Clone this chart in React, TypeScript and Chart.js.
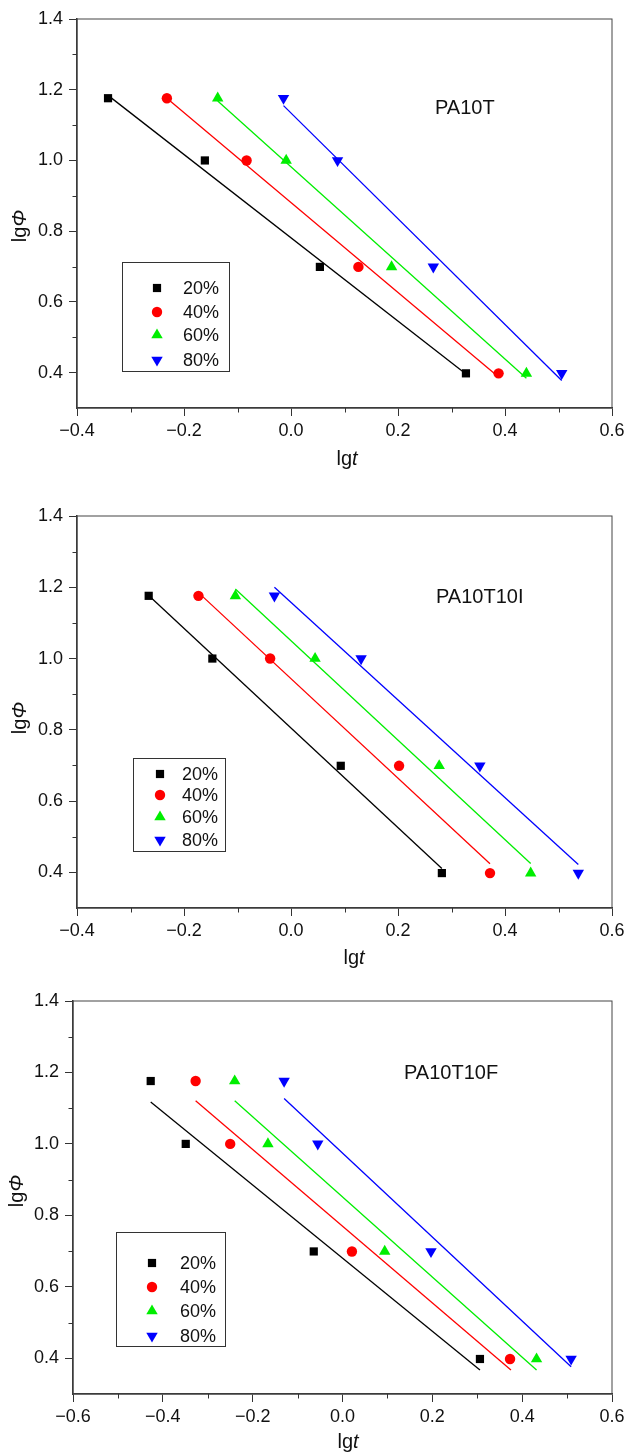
import React, { useEffect, useRef } from "react";
import { Chart, registerables } from "chart.js";

Chart.register(...registerables);

// ---- data ----
const SERIES_NAMES = ["20%", "40%", "60%", "80%"];
const SERIES_COLORS = ["#000000", "#ff0000", "#00ee00", "#0000ff"];
const LG_PHI = [1.176, 1.0, 0.699, 0.398];

const Y_TICKS = [0.4, 0.6, 0.8, 1.0, 1.2, 1.4];
const Y_MINOR = [0.5, 0.7, 0.9, 1.1, 1.3];
const X_TICKS_AB = [-0.4, -0.2, 0.0, 0.2, 0.4, 0.6];
const X_MINOR_AB = [-0.3, -0.1, 0.1, 0.3, 0.5];
const X_TICKS_C = [-0.6, -0.4, -0.2, 0.0, 0.2, 0.4, 0.6];
const X_MINOR_C = [-0.5, -0.3, -0.1, 0.1, 0.3, 0.5];

// PA10T: lg t for 20/40/60/80 %
const P1_20 = [-0.342, -0.161, 0.054, 0.327];
const P1_40 = [-0.232, -0.083, 0.126, 0.388];
const P1_60 = [-0.137, -0.009, 0.188, 0.44];
const P1_80 = [-0.014, 0.087, 0.266, 0.506];
// fitted lines: [x1, y1, x2, y2]
const P1_FIT_20 = [-0.342, 1.184, 0.327, 0.396];
const P1_FIT_40 = [-0.232, 1.176, 0.388, 0.388];
const P1_FIT_60 = [-0.137, 1.168, 0.44, 0.384];
const P1_FIT_80 = [-0.014, 1.155, 0.506, 0.378];

// PA10T10I
const P2_20 = [-0.266, -0.147, 0.093, 0.282];
const P2_40 = [-0.173, -0.039, 0.202, 0.372];
const P2_60 = [-0.104, 0.045, 0.277, 0.448];
const P2_80 = [-0.031, 0.131, 0.353, 0.537];
const P2_FIT_20 = [-0.266, 1.177, 0.282, 0.411];
const P2_FIT_40 = [-0.173, 1.185, 0.372, 0.424];
const P2_FIT_60 = [-0.104, 1.195, 0.448, 0.425];
const P2_FIT_80 = [-0.031, 1.2, 0.537, 0.422];

// PA10T10F
const P3_20 = [-0.427, -0.349, -0.064, 0.306];
const P3_40 = [-0.327, -0.25, 0.021, 0.373];
const P3_60 = [-0.24, -0.166, 0.094, 0.432];
const P3_80 = [-0.13, -0.055, 0.197, 0.509];
const P3_FIT_20 = [-0.427, 1.117, 0.306, 0.367];
const P3_FIT_40 = [-0.327, 1.121, 0.375, 0.367];
const P3_FIT_60 = [-0.24, 1.121, 0.432, 0.367];
const P3_FIT_80 = [-0.13, 1.127, 0.509, 0.376];

// ---- styles / layout ----
const FONT = "'Liberation Sans', Arial, Helvetica, sans-serif";
const MARKERS = [
  { style: "rect", radius: 5.8, rotation: 0 },
  { style: "circle", radius: 5.2, rotation: 0 },
  { style: "triangle", radius: 6.6, rotation: 0 },
  { style: "triangle", radius: 6.6, rotation: 180 },
];
const AXIS_COLOR = "#333333";

type Panel = {
  name: string;
  height: number;
  top: number;
  bottom: number;
  left: number;
  right: number;
  xMin: number;
  xTicks: number[];
  xMinor: number[];
  lgt: number[][];
  fits: number[][];
  label: { x: number; y: number };
  legend: { x: number; y: number; w: number; h: number; markerX: number; textX: number; rows: number[] };
  yTitle: { x: number; y: number };
  xTitle: { x: number; y: number };
};

const PANELS: Panel[] = [
  {
    name: "PA10T",
    height: 490,
    top: 19,
    bottom: 408,
    left: 77,
    right: 612,
    xMin: -0.4,
    xTicks: X_TICKS_AB,
    xMinor: X_MINOR_AB,
    lgt: [P1_20, P1_40, P1_60, P1_80],
    fits: [P1_FIT_20, P1_FIT_40, P1_FIT_60, P1_FIT_80],
    label: { x: 435, y: 108 },
    legend: { x: 122, y: 262, w: 107, h: 109, markerX: 157, textX: 183, rows: [288, 312, 335, 360] },
    yTitle: { x: 20, y: 226 },
    xTitle: { x: 347, y: 459 },
  },
  {
    name: "PA10T10I",
    height: 490,
    top: 26,
    bottom: 418,
    left: 77,
    right: 612,
    xMin: -0.4,
    xTicks: X_TICKS_AB,
    xMinor: X_MINOR_AB,
    lgt: [P2_20, P2_40, P2_60, P2_80],
    fits: [P2_FIT_20, P2_FIT_40, P2_FIT_60, P2_FIT_80],
    label: { x: 436, y: 107 },
    legend: { x: 133, y: 268, w: 92, h: 93, markerX: 160, textX: 182, rows: [284, 305, 327, 350] },
    yTitle: { x: 20, y: 228 },
    xTitle: { x: 354, y: 468 },
  },
  {
    name: "PA10T10F",
    height: 474,
    top: 21,
    bottom: 414,
    left: 73,
    right: 612,
    xMin: -0.6,
    xTicks: X_TICKS_C,
    xMinor: X_MINOR_C,
    lgt: [P3_20, P3_40, P3_60, P3_80],
    fits: [P3_FIT_20, P3_FIT_40, P3_FIT_60, P3_FIT_80],
    label: { x: 404, y: 93 },
    legend: { x: 116, y: 252, w: 109, h: 114, markerX: 152, textX: 180, rows: [283, 307, 331, 356] },
    yTitle: { x: 17, y: 211 },
    xTitle: { x: 348, y: 462 },
  },
];

function fmt(v: number): string {
  const r = Math.round(v * 10) / 10;
  return (r < 0 ? "\u2212" : "") + Math.abs(r).toFixed(1);
}

function drawMarker(ctx: CanvasRenderingContext2D, idx: number, x: number, y: number) {
  const m = MARKERS[idx];
  const r = m.radius;
  ctx.fillStyle = SERIES_COLORS[idx];
  ctx.beginPath();
  if (m.style === "rect") {
    const s = r * Math.SQRT1_2;
    ctx.rect(x - s, y - s, 2 * s, 2 * s);
  } else if (m.style === "circle") {
    ctx.arc(x, y, r, 0, Math.PI * 2);
  } else {
    let a = (m.rotation * Math.PI) / 180;
    for (let i = 0; i < 3; i++) {
      const px = x + Math.sin(a) * r;
      const py = y - Math.cos(a) * r;
      if (i === 0) ctx.moveTo(px, py);
      else ctx.lineTo(px, py);
      a += (Math.PI * 2) / 3;
    }
    ctx.closePath();
  }
  ctx.fill();
}

function drawMixed(ctx: CanvasRenderingContext2D, plain: string, ital: string, size: number) {
  ctx.font = `${size}px ${FONT}`;
  const w1 = ctx.measureText(plain).width;
  ctx.font = `italic ${size}px ${FONT}`;
  const w2 = ctx.measureText(ital).width;
  const start = -(w1 + w2) / 2;
  ctx.textAlign = "left";
  ctx.textBaseline = "middle";
  ctx.fillStyle = "#111";
  ctx.font = `${size}px ${FONT}`;
  ctx.fillText(plain, start, 0);
  ctx.font = `italic ${size}px ${FONT}`;
  ctx.fillText(ital, start + w1, 0);
}

function makeDecor(p: Panel) {
  return {
    id: "decor_" + p.name,
    beforeDatasetsDraw(chart: any) {
      const { ctx, chartArea } = chart;
      ctx.save();
      ctx.strokeStyle = "#444";
      ctx.lineWidth = 1;
      ctx.strokeRect(chartArea.left, chartArea.top, chartArea.right - chartArea.left, chartArea.bottom - chartArea.top);
      // minor ticks
      ctx.strokeStyle = AXIS_COLOR;
      ctx.lineWidth = 1;
      const xs = chart.scales.x;
      const ys = chart.scales.y;
      ctx.beginPath();
      p.xMinor.forEach((v) => {
        const px = Math.round(xs.getPixelForValue(v)) + 0.5;
        ctx.moveTo(px, chartArea.bottom);
        ctx.lineTo(px, chartArea.bottom + 4.5);
      });
      Y_MINOR.forEach((v) => {
        const py = Math.round(ys.getPixelForValue(v)) + 0.5;
        ctx.moveTo(chartArea.left - 4.5, py);
        ctx.lineTo(chartArea.left, py);
      });
      ctx.stroke();
      ctx.restore();
    },
    afterDraw(chart: any) {
      const { ctx } = chart;
      ctx.save();
      // panel label
      ctx.font = `20px ${FONT}`;
      ctx.fillStyle = "#111";
      ctx.textAlign = "left";
      ctx.textBaseline = "middle";
      ctx.fillText(p.name, p.label.x, p.label.y);
      // legend
      const L = p.legend;
      ctx.fillStyle = "#ffffff";
      ctx.fillRect(L.x, L.y, L.w, L.h);
      ctx.strokeStyle = "#333";
      ctx.lineWidth = 1;
      ctx.strokeRect(L.x + 0.5, L.y + 0.5, L.w, L.h);
      SERIES_NAMES.forEach((name, i) => {
        drawMarker(ctx, i, L.markerX, L.rows[i]);
        ctx.font = `18px ${FONT}`;
        ctx.fillStyle = "#111";
        ctx.textAlign = "left";
        ctx.textBaseline = "middle";
        ctx.fillText(name, L.textX, L.rows[i] + 1);
      });
      // axis titles
      ctx.save();
      ctx.translate(p.xTitle.x, p.xTitle.y);
      drawMixed(ctx, "lg", "t", 20);
      ctx.restore();
      ctx.save();
      ctx.translate(p.yTitle.x, p.yTitle.y);
      ctx.rotate(-Math.PI / 2);
      drawMixed(ctx, "lg", "\u03A6", 20);
      ctx.restore();
      ctx.restore();
    },
  };
}

function buildConfig(p: Panel): any {
  const pointSets = p.lgt.map((xs, i) => ({
    label: SERIES_NAMES[i],
    data: xs.map((x, j) => ({ x, y: LG_PHI[j] })),
    pointStyle: MARKERS[i].style,
    pointRadius: MARKERS[i].radius,
    pointRotation: MARKERS[i].rotation,
    pointBackgroundColor: SERIES_COLORS[i],
    pointBorderColor: SERIES_COLORS[i],
    pointBorderWidth: 0,
    showLine: false,
  }));
  const fitSets = p.fits.map((f, i) => ({
    label: SERIES_NAMES[i] + " fit",
    data: [
      { x: f[0], y: f[1] },
      { x: f[2], y: f[3] },
    ],
    showLine: true,
    pointRadius: 0,
    borderColor: SERIES_COLORS[i],
    borderWidth: 1.3,
    fill: false,
  }));
  const tickFont = { family: FONT, size: 18 };
  return {
    type: "scatter",
    data: { datasets: [...pointSets, ...fitSets] },
    options: {
      animation: false,
      responsive: false,
      devicePixelRatio: 1,
      layout: { padding: { top: p.top, right: 625 - p.right, left: 0, bottom: 0 } },
      plugins: { legend: { display: false }, tooltip: { enabled: false } },
      scales: {
        x: {
          type: "linear",
          min: p.xMin,
          max: 0.6,
          afterBuildTicks: (s: any) => {
            s.ticks = p.xTicks.map((v) => ({ value: v }));
          },
          afterFit: (s: any) => {
            s.height = p.height - p.bottom;
            s.paddingLeft = 0;
            s.paddingRight = 0;
          },
          ticks: {
            callback: (v: any) => fmt(Number(v)),
            font: tickFont,
            color: "#111",
            padding: 4,
            maxRotation: 0,
            autoSkip: false,
          },
          grid: { drawOnChartArea: false, drawTicks: true, tickLength: 8, color: AXIS_COLOR, lineWidth: 1 },
          border: { display: true, color: AXIS_COLOR, width: 1.5 },
        },
        y: {
          type: "linear",
          min: 0.3,
          max: 1.4,
          afterBuildTicks: (s: any) => {
            s.ticks = Y_TICKS.map((v) => ({ value: v }));
          },
          afterFit: (s: any) => {
            s.width = p.left;
            s.paddingTop = 0;
            s.paddingBottom = 0;
          },
          ticks: {
            callback: (v: any) => fmt(Number(v)),
            font: tickFont,
            color: "#111",
            padding: 6,
            autoSkip: false,
          },
          grid: { drawOnChartArea: false, drawTicks: true, tickLength: 8, color: AXIS_COLOR, lineWidth: 1 },
          border: { display: true, color: AXIS_COLOR, width: 1.5 },
        },
      },
    },
    plugins: [makeDecor(p)],
  };
}

function PanelChart({ p }: { p: Panel }) {
  const ref = useRef<HTMLCanvasElement | null>(null);
  useEffect(() => {
    if (!ref.current) return;
    const chart = new Chart(ref.current, buildConfig(p));
    return () => chart.destroy();
  }, [p]);
  return <canvas ref={ref} width={625} height={p.height} style={{ display: "block", width: 625, height: p.height }} />;
}

export default function App() {
  return (
    <div style={{ position: "absolute", left: 0, top: 0, width: 625, background: "#fff" }}>
      {PANELS.map((p) => (
        <PanelChart key={p.name} p={p} />
      ))}
    </div>
  );
}
